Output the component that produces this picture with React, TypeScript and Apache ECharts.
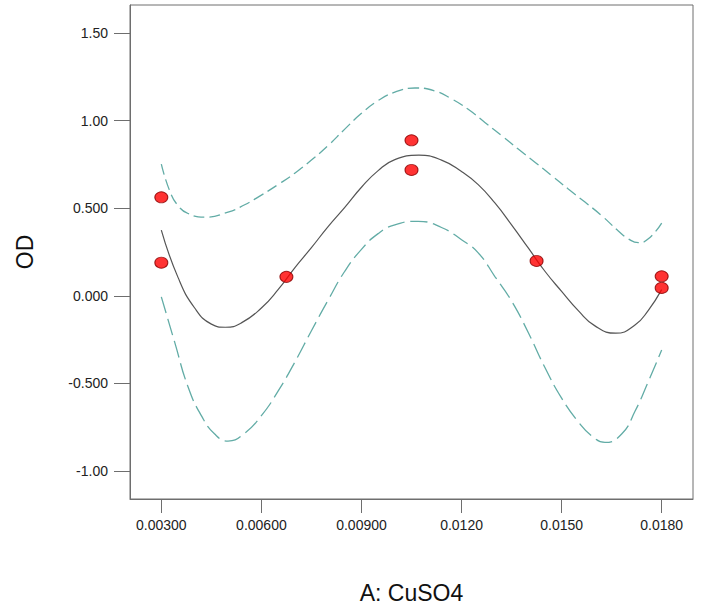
import React, { useEffect, useRef } from "react";
import * as echarts from "echarts";

const xTickValues = [0.003, 0.006, 0.009, 0.012, 0.015, 0.018];
const xTickLabels = ["0.00300", "0.00600", "0.00900", "0.0120", "0.0150", "0.0180"];
const yTickValues = [-1, -0.5, 0, 0.5, 1, 1.5];
const yTickLabels = ["-1.00", "-0.500", "0.000", "0.500", "1.00", "1.50"];

// Observed runs (A: CuSO4, OD)
const obsX = [0.003, 0.003, 0.00675, 0.0105, 0.0105, 0.01425, 0.018, 0.018];
const obsY = [0.5625, 0.189, 0.108, 0.888, 0.719, 0.199, 0.111, 0.045];

// Fitted model curve
const fitX = [
  0.003, 0.0035, 0.004, 0.0045, 0.00492, 0.0054, 0.006, 0.0065, 0.007, 0.0075,
  0.008, 0.0085, 0.009, 0.0095, 0.01, 0.01072, 0.0114, 0.012, 0.0125, 0.013,
  0.0135, 0.014, 0.0145, 0.015, 0.0155, 0.016, 0.01662, 0.0172, 0.0176, 0.018,
];
const fitY = [
  0.375, 0.105, -0.07, -0.162, -0.18, -0.155, -0.07, 0.035, 0.16, 0.275,
  0.395, 0.505, 0.62, 0.715, 0.778, 0.803, 0.775, 0.71, 0.635, 0.53,
  0.405, 0.273, 0.14, 0.025, -0.085, -0.172, -0.214, -0.167, -0.083, 0.035,
];

// Upper confidence band
const upX = [
  0.003, 0.00325, 0.0035, 0.0038, 0.0043, 0.005, 0.0055, 0.006, 0.0065, 0.007,
  0.0075, 0.008, 0.0085, 0.009, 0.0095, 0.01, 0.0106, 0.0112, 0.0117, 0.0122,
  0.0127, 0.0132, 0.0137, 0.0142, 0.0147, 0.0152, 0.0157, 0.0162, 0.0167, 0.017,
  0.0173, 0.0176, 0.018,
];
const upY = [
  0.752, 0.6, 0.515, 0.47, 0.449, 0.478, 0.52, 0.575, 0.635, 0.7,
  0.775, 0.858, 0.952, 1.042, 1.115, 1.163, 1.187, 1.17, 1.125, 1.065,
  0.99, 0.915, 0.838, 0.763, 0.687, 0.61, 0.535, 0.458, 0.37, 0.325,
  0.303, 0.325, 0.415,
];

// Lower confidence band
const loX = [
  0.003, 0.0034, 0.0038, 0.0042, 0.0046, 0.005, 0.0055, 0.006, 0.0065, 0.007,
  0.0075, 0.008, 0.0085, 0.009, 0.0095, 0.01, 0.0107, 0.0114, 0.012, 0.0125,
  0.013, 0.0135, 0.014, 0.0145, 0.015, 0.0155, 0.0159, 0.0163, 0.0168, 0.0172,
  0.0176, 0.018,
];
const loY = [
  -0.006, -0.265, -0.52, -0.685, -0.79, -0.83, -0.785, -0.685, -0.545, -0.38,
  -0.2, -0.025, 0.14, 0.265, 0.355, 0.405, 0.425, 0.39, 0.32, 0.245,
  0.11, -0.03, -0.21, -0.41, -0.585, -0.72, -0.8, -0.838, -0.79, -0.66,
  -0.49, -0.31,
];

const pairs = (xs: number[], ys: number[]) => xs.map((x, i) => [x, ys[i]]);

const labelFor = (vals: number[], labels: string[]) => (v: number) => {
  const i = vals.findIndex((t) => Math.abs(t - v) < 1e-9);
  return i >= 0 ? labels[i] : "";
};

export default function App() {
  const ref = useRef<HTMLDivElement>(null);
  useEffect(() => {
    document.body.style.margin = "0";
    const chart = echarts.init(ref.current!, null, { renderer: "svg" });
    const font = "'Liberation Sans', Arial, sans-serif";
    const band = "#62aca6";
    chart.setOption({
      animation: false,
      backgroundColor: "#ffffff",
      grid: {
        left: 130,
        top: 5,
        width: 563,
        height: 496.5,
        show: true,
        borderColor: "#6e6e6e",
        borderWidth: 1,
        backgroundColor: "transparent",
      },
      xAxis: {
        type: "value",
        min: 0.002061,
        max: 0.018939,
        name: "A: CuSO4",
        nameLocation: "middle",
        nameGap: 82,
        nameTextStyle: { fontFamily: font, fontSize: 23, color: "#111" },
        axisLine: { show: true, onZero: false, lineStyle: { color: "#6e6e6e", width: 1 } },
        axisTick: { show: true, length: 14, customValues: xTickValues, lineStyle: { color: "#6e6e6e" } },
        axisLabel: {
          customValues: xTickValues,
          formatter: labelFor(xTickValues, xTickLabels),
          margin: 19,
          fontFamily: font,
          fontSize: 14,
          color: "#222",
        },
        splitLine: { show: false },
      },
      yAxis: {
        type: "value",
        min: -1.161,
        max: 1.661,
        name: "OD",
        nameLocation: "middle",
        nameGap: 94,
        nameTextStyle: { fontFamily: font, fontSize: 23, color: "#111" },
        axisLine: { show: true, onZero: false, lineStyle: { color: "#6e6e6e", width: 1 } },
        axisTick: { show: true, length: 16, customValues: yTickValues, lineStyle: { color: "#6e6e6e" } },
        axisLabel: {
          customValues: yTickValues,
          formatter: labelFor(yTickValues, yTickLabels),
          margin: 22,
          fontFamily: font,
          fontSize: 14,
          color: "#222",
        },
        splitLine: { show: false },
      },
      series: [
        {
          type: "line",
          name: "Upper",
          data: pairs(upX, upY),
          smooth: 0.5,
          showSymbol: false,
          lineStyle: { color: band, width: 1.3, type: [11, 5] },
          z: 2,
        },
        {
          type: "line",
          name: "Lower",
          data: pairs(loX, loY),
          smooth: 0.5,
          showSymbol: false,
          lineStyle: { color: band, width: 1.3, type: [17, 6] },
          z: 2,
        },
        {
          type: "line",
          name: "Fit",
          data: pairs(fitX, fitY),
          smooth: 0.5,
          showSymbol: false,
          lineStyle: { color: "#555555", width: 1.2 },
          z: 3,
        },
        {
          type: "scatter",
          name: "OD",
          data: pairs(obsX, obsY),
          symbol: "circle",
          symbolSize: [13, 11],
          itemStyle: { color: "#ff0000", borderColor: "#8a0000", borderWidth: 1 },
          z: 5,
        },
      ],
    });
    return () => chart.dispose();
  }, []);
  return (
    <div
      ref={ref}
      style={{ position: "absolute", left: 0, top: 0, width: 704, height: 609 }}
    />
  );
}
